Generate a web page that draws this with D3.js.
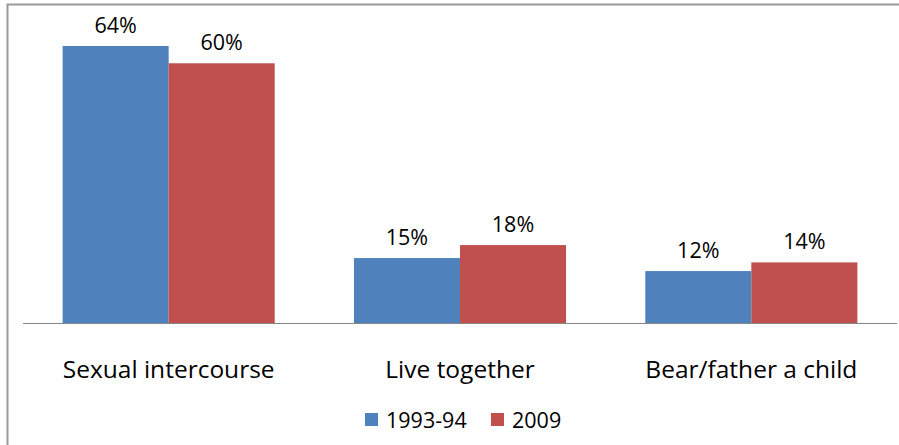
<!DOCTYPE html>
<html>
<head>
<meta charset="utf-8">
<script src="https://cdn.jsdelivr.net/npm/d3@7"></script>
<style>
  body { margin: 0; background: #fff; }
  text { font-family: "Open Sans", Lato, sans-serif; fill: #000; }
</style>
</head>
<body>
<div id="chart"></div>
<script>
var svgWidth = 899;
var svgHeight = 445;

// chart data
var categories = ["Sexual intercourse", "Live together", "Bear/father a child"];
var seriesNames = ["1993-94", "2009"];
var values1993 = [64, 15, 12];
var values2009 = [60, 18, 14];
var colors = ["#4f81bd", "#c0504d"];

var plot = { left: 23, right: 897, top: 20, bottom: 323 };

var svg = d3.select("#chart")
    .append("svg")
    .attr("width", svgWidth)
    .attr("height", svgHeight);

// outer frame (cropped on right / bottom)
svg.append("rect")
    .attr("x", 7.5)
    .attr("y", 4.5)
    .attr("width", 900)
    .attr("height", 450)
    .attr("fill", "none")
    .attr("stroke", "#9a9a9a")
    .attr("stroke-width", 2);

var x0 = d3.scaleBand()
    .domain(categories)
    .range([plot.left, plot.right])
    .paddingInner(0.272)
    .paddingOuter(0.136);

var x1 = d3.scaleBand()
    .domain(seriesNames)
    .range([0, x0.bandwidth()]);

var y = d3.scaleLinear()
    .domain([0, 70])
    .range([plot.bottom, plot.top]);

var rows = categories.map(function(c, i) {
    return { cat: c, vals: [values1993[i], values2009[i]] };
});

var groups = svg.selectAll(".grp")
    .data(rows)
    .enter()
    .append("g")
    .attr("class", "grp")
    .attr("transform", function(d) { return "translate(" + x0(d.cat) + ",0)"; });

groups.selectAll("rect")
    .data(function(d) { return d.vals.map(function(v, j) { return { s: seriesNames[j], v: v, j: j }; }); })
    .enter()
    .append("rect")
    .attr("x", function(d) { return x1(d.s); })
    .attr("y", function(d) { return y(d.v); })
    .attr("width", x1.bandwidth())
    .attr("height", function(d) { return y(0) - y(d.v); })
    .attr("fill", function(d) { return colors[d.j]; });

groups.selectAll(".val")
    .data(function(d) { return d.vals.map(function(v, j) { return { s: seriesNames[j], v: v }; }); })
    .enter()
    .append("text")
    .attr("class", "val")
    .attr("x", function(d) { return x1(d.s) + x1.bandwidth() / 2; })
    .attr("y", function(d) { return y(d.v) - 13; })
    .attr("text-anchor", "middle")
    .style("font-size", "21.5px")
    .text(function(d) { return d.v + "%"; });

// baseline
svg.append("line")
    .attr("x1", plot.left)
    .attr("x2", plot.right)
    .attr("y1", y(0) + 0.5)
    .attr("y2", y(0) + 0.5)
    .attr("stroke", "#868686")
    .attr("stroke-width", 1);

// category labels
var bottomAxis = d3.axisBottom(x0).tickSize(0).tickPadding(0);
var xAxis = svg.append("g")
    .attr("transform", "translate(0," + 378 + ")")
    .call(bottomAxis);
xAxis.select(".domain").remove();
xAxis.selectAll("text")
    .attr("dy", 0)
    .attr("y", 0)
    .style("font-size", "24.5px")
    .style("font-family", "'Open Sans', Lato, sans-serif")
    .attr("fill", "#000");

// legend
var legendX = [365, 491];
var legend = svg.selectAll(".leg")
    .data(seriesNames)
    .enter()
    .append("g")
    .attr("class", "leg")
    .attr("transform", function(d, i) { return "translate(" + legendX[i] + ",413)"; });

legend.append("rect")
    .attr("width", 13)
    .attr("height", 13)
    .attr("fill", function(d, i) { return colors[i]; });

legend.append("text")
    .attr("x", 21)
    .attr("y", 15)
    .style("font-size", "21.5px")
    .text(function(d) { return d; });
</script>
</body>
</html>
